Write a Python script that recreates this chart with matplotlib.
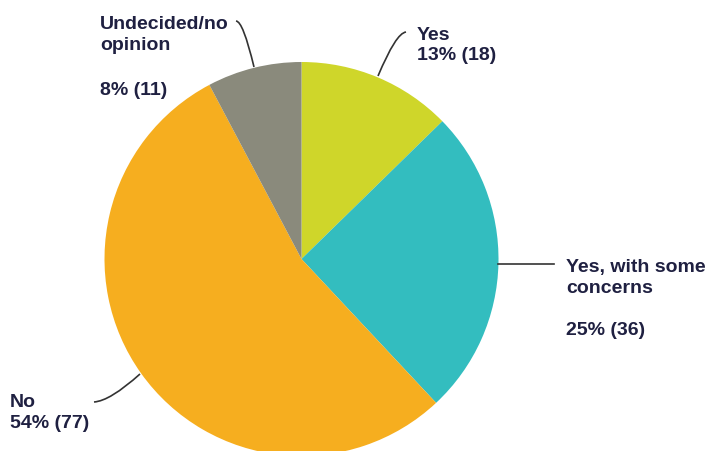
import matplotlib
matplotlib.use("Agg")
import matplotlib.pyplot as plt
from matplotlib.path import Path
from matplotlib.patches import PathPatch

categories = ["Yes", "Yes, with some\nconcerns", "No", "Undecided/no\nopinion"]
counts = [18, 36, 77, 11]
pct_labels = ["13% (18)", "25% (36)", "54% (77)", "8% (11)"]
colors = ["#CFD62A", "#33BDBF", "#F6AE1F", "#8A8A7C"]

W, H = 706, 452
fig = plt.figure(figsize=(W / 100, H / 100), dpi=100)
ax = fig.add_axes([0, 0, 1, 1])

cx, cy, r = 301.5, 260, 197
ax.pie(counts, colors=colors, center=(cx, cy), radius=r, startangle=-90,
       counterclock=True, wedgeprops=dict(linewidth=0), frame=True)
ax.set_xlim(0, W)
ax.set_ylim(H, 0)
ax.set_aspect("equal")
ax.axis("off")

txt = dict(fontsize=14, fontweight="bold", color="#1F2041",
           family=["Liberation Sans", "DejaVu Sans"], va="baseline", ha="left")

def lines(x, items):
    for y, s in items:
        ax.text(x, y, s, **txt)

def curve(pts):
    codes = [Path.MOVETO] + [Path.CURVE3] * (len(pts) - 1)
    ax.add_patch(PathPatch(Path(pts, codes), fill=False, lw=1.2, ec="#333333"))

# Yes
curve([(378, 77), (396, 34), (406, 33)])
lines(417, [(40, "Yes"), (60, pct_labels[0])])
# Yes, with some concerns
ax.plot([498, 554], [265, 265], color="#333333", lw=1.2)
c1, c2 = categories[1].split("\n")
lines(566, [(272, c1), (293, c2), (335, pct_labels[1])])
# No
curve([(140, 375), (110, 402), (94, 403)])
lines(10, [(407, "No"), (428, pct_labels[2])])
# Undecided
curve([(254, 68), (243, 22), (236, 22)])
u1, u2 = categories[3].split("\n")
lines(100, [(29, u1), (50, u2), (95, pct_labels[3])])

fig.savefig("out.png", dpi=100, facecolor="white")
